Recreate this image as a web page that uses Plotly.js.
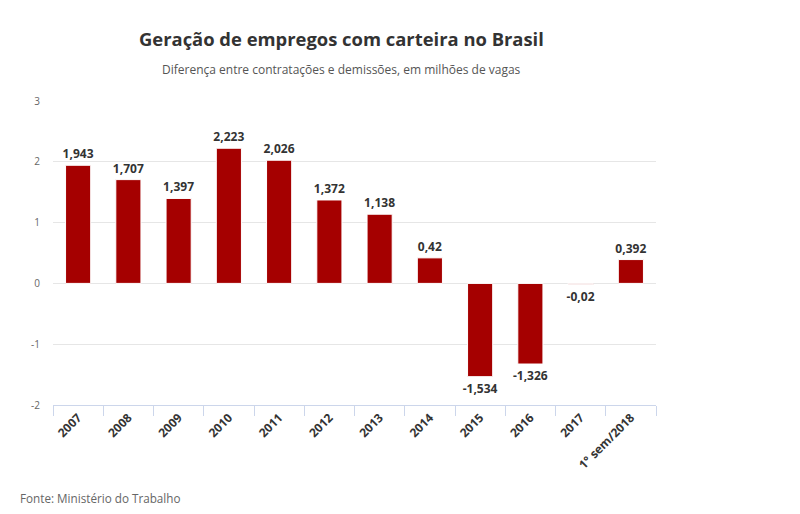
<!DOCTYPE html>
<html>
<head>
<meta charset="utf-8">
<script src="https://cdn.plot.ly/plotly-3.0.1.min.js"></script>
<style>html,body{margin:0;padding:0;background:#fff;}#chart{width:800px;height:514px;}</style>
</head>
<body>
<div id="chart"></div>
<script>
var categories = ["2007","2008","2009","2010","2011","2012","2013","2014","2015","2016","2017","1° sem/2018"];
var values = [1.943, 1.707, 1.397, 2.223, 2.026, 1.372, 1.138, 0.42, -1.534, -1.326, -0.02, 0.392];
var labels = values.map(function(v){ return String(v).replace('.', ','); });
var yTickVals = [-2, -1, 0, 1, 2, 3];
var yTickText = ["-2", "-1", "0", "1", "2", "3"];

var trace = {
  type: 'bar',
  x: categories,
  y: values,
  text: labels,
  textposition: 'outside',
  constraintext: 'none',
  cliponaxis: false,
  textfont: {family: 'Open Sans', size: 12, color: '#333333', weight: 'bold'},
  marker: {color: '#a50000', line: {color: '#ffffff', width: 1}},
  hoverinfo: 'none'
};

var layout = {
  width: 800, height: 514,
  margin: {l: 53, r: 144, t: 101, b: 109},
  paper_bgcolor: '#ffffff', plot_bgcolor: '#ffffff',
  font: {family: 'Open Sans', color: '#333333'},
  bargap: 0.5,
  showlegend: false,
  xaxis: {
    type: 'category',
    tickangle: -45,
    tickfont: {family: 'Open Sans', size: 12, color: '#333333', weight: 'bold'},
    showline: true, linecolor: '#ccd6eb', linewidth: 1,
    ticks: 'outside', tickson: 'boundaries', ticklen: 10, tickcolor: '#ccd6eb',
    showgrid: false, automargin: false
  },
  yaxis: {
    range: [-2, 3],
    tickmode: 'array', tickvals: yTickVals, ticktext: yTickText,
    showgrid: true, gridcolor: '#e6e6e6', gridwidth: 1,
    zeroline: false,
    tickfont: {family: 'Open Sans', size: 10, color: '#666666'},
    ticks: '', ticklabelstandoff: 12, automargin: false
  },
  annotations: [
    {text: 'Geração de empregos com carteira no Brasil', xref: 'paper', yref: 'paper', x: 0.478, y: 1.207, xanchor: 'center', yanchor: 'middle', showarrow: false,
     font: {family: 'Open Sans', size: 18.4, color: '#333333', weight: 'bold'}},
    {text: 'Diferença entre contratações e demissões, em milhões de vagas', xref: 'paper', yref: 'paper', x: 0.478, y: 1.102, xanchor: 'center', yanchor: 'middle', showarrow: false,
     font: {family: 'Open Sans', size: 12, color: '#555555'}},
    {text: 'Fonte: Ministério do Trabalho', xref: 'paper', yref: 'paper', x: -0.058, y: -0.306, xanchor: 'left', yanchor: 'middle', showarrow: false,
     font: {family: 'Open Sans', size: 11.7, color: '#666666'}}
  ]
};

Plotly.newPlot('chart', [trace], layout, {displayModeBar: false, staticPlot: true});
</script>
</body>
</html>
